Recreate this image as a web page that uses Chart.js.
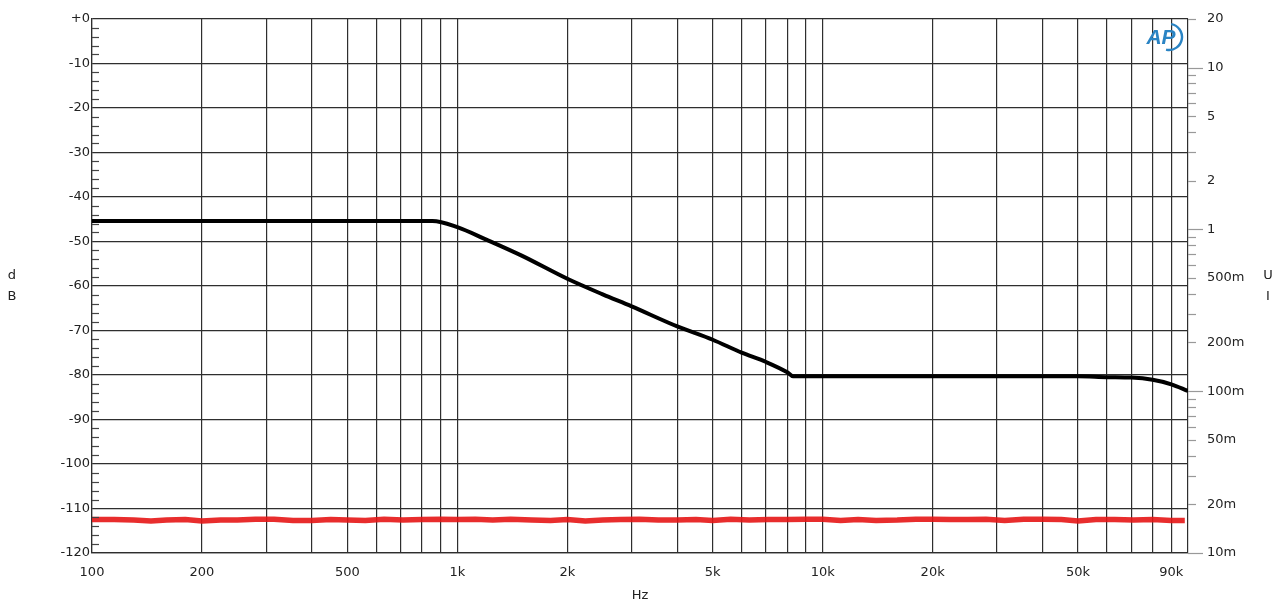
<!DOCTYPE html>
<html>
<head>
<meta charset="utf-8">
<script src="https://cdn.jsdelivr.net/npm/chart.js@4.4.1/dist/chart.umd.min.js"></script>
<style>
  html, body { margin: 0; padding: 0; background: #fff; }
  #wrap { width: 1282px; height: 604px; }
</style>
</head>
<body>
<div id="wrap"><canvas id="fr"></canvas></div>
<script>
// frequency response (black) and noise floor (red)
var blackHz = [100, 200, 500, 855, 1000, 1200, 1500, 2000, 2500, 3000, 4000, 5000, 6000, 7000, 8000, 8300, 10000, 20000, 50000, 60000, 70000, 80000, 90000, 100000];
var blackDb = [-45.4, -45.4, -45.4, -45.4, -46.8, -49.6, -53.2, -58.4, -61.9, -64.6, -69.1, -72.1, -75.0, -77.1, -79.4, -80.3, -80.3, -80.3, -80.3, -80.5, -80.6, -81.1, -82.1, -83.6];

var redHz = [100, 115, 130, 145, 160, 180, 200, 225, 250, 280, 315, 355, 400, 450, 500, 560, 630, 710, 800, 900,
             1000, 1120, 1250, 1400, 1600, 1800, 2000, 2240, 2500, 2800, 3150, 3550, 4000, 4500, 5000, 5600, 6300, 7100, 8000, 9000,
             10000, 11200, 12500, 14000, 16000, 18000, 20000, 22400, 25000, 28000, 31500, 35500, 40000, 45000, 50000, 56000, 63000, 71000, 80000, 90000, 98000];
var redDb = [-112.5, -112.5, -112.6, -112.8, -112.6, -112.5, -112.8, -112.6, -112.6, -112.4, -112.4, -112.7, -112.7, -112.5, -112.6, -112.7, -112.4, -112.6, -112.5, -112.4,
             -112.5, -112.4, -112.6, -112.4, -112.6, -112.7, -112.5, -112.8, -112.6, -112.5, -112.4, -112.6, -112.6, -112.5, -112.7, -112.4, -112.6, -112.5, -112.5, -112.4,
             -112.4, -112.7, -112.5, -112.7, -112.6, -112.4, -112.4, -112.5, -112.5, -112.4, -112.7, -112.4, -112.4, -112.5, -112.8, -112.5, -112.5, -112.6, -112.5, -112.7, -112.7];

var gridHz = [100, 200, 300, 400, 500, 600, 700, 800, 900,
              1000, 2000, 3000, 4000, 5000, 6000, 7000, 8000, 9000,
              10000, 20000, 30000, 40000, 50000, 60000, 70000, 80000, 90000, 100000];
var xTickVals = [100, 200, 500, 1000, 2000, 5000, 10000, 20000, 50000, 90000];
var xTickText = ['100', '200', '500', '1k', '2k', '5k', '10k', '20k', '50k', '90k'];

var dbTicks = [0, -10, -20, -30, -40, -50, -60, -70, -80, -90, -100, -110, -120];
var uVals = [20, 10, 5, 2, 1, 0.5, 0.2, 0.1, 0.05, 0.02, 0.01];
var uText = ['20', '10', '5', '2', '1', '500m', '200m', '100m', '50m', '20m', '10m'];

var txt = '#222';
var gridCol = '#2e2e2e';
var font = { family: "'DejaVu Sans', sans-serif", size: 13 };

function pts(xs, ys) {
  return xs.map(function (x, i) { return { x: x, y: ys[i] }; });
}

// minor ticks, axis letters and the AP mark
var extras = {
  id: 'extras',
  afterDraw: function (chart) {
    var ctx = chart.ctx;
    var y = chart.scales.y, y2 = chart.scales.y2, a = chart.chartArea;
    ctx.save();
    ctx.strokeStyle = '#444';
    ctx.lineWidth = 1.2;
    for (var d = -118; d < 0; d += 2) {
      if (d % 10 === 0) continue;
      var py = Math.round(y.getPixelForValue(d)) + 0.5;
      ctx.beginPath(); ctx.moveTo(a.left, py); ctx.lineTo(a.left + 7, py); ctx.stroke();
    }
    ctx.strokeStyle = '#999';
    for (var e = -2; e <= 1; e++) {
      for (var m = 1; m <= 9; m++) {
        var v = m * Math.pow(10, e);
        if (v < 0.01 - 1e-9 || v > 20 + 1e-9) continue;
        var p = Math.round(y2.getPixelForValue(v)) + 0.5;
        var len = m === 1 ? 15 : 8;
        ctx.beginPath(); ctx.moveTo(a.right, p); ctx.lineTo(a.right + len, p); ctx.stroke();
      }
    }
    ctx.fillStyle = txt;
    ctx.font = "13px 'DejaVu Sans', sans-serif";
    ctx.textAlign = 'center';
    ctx.textBaseline = 'middle';
    ctx.fillText('d', 12, 276);
    ctx.fillText('B', 12, 297);
    ctx.fillText('U', 1268, 276);
    ctx.fillText('I', 1268, 297);

    // AP logo
    ctx.fillStyle = '#2a84c4';
    ctx.strokeStyle = '#2a84c4';
    ctx.font = "italic bold 21px 'Liberation Sans', Arial, sans-serif";
    ctx.fillText('AP', 1161, 38);
    ctx.lineWidth = 2.4;
    ctx.beginPath();
    ctx.arc(1169, 37, 13, -1.4, 1.8);
    ctx.stroke();
    ctx.restore();
  }
};

new Chart(document.getElementById('fr'), {
  type: 'line',
  data: {
    datasets: [
      { data: pts(redHz, redDb), borderColor: 'rgba(230,22,22,0.9)', borderWidth: 5.5, pointRadius: 0, tension: 0, yAxisID: 'y' },
      { data: pts(blackHz, blackDb), borderColor: '#000', borderWidth: 4, pointRadius: 0, cubicInterpolationMode: 'monotone', yAxisID: 'y' }
    ]
  },
  options: {
    responsive: true,
    maintainAspectRatio: false,
    animation: false,
    layout: { padding: { top: 12, left: 0, right: 0, bottom: 0 } },
    plugins: { legend: { display: false }, tooltip: { enabled: false } },
    scales: {
      x: {
        type: 'logarithmic',
        min: 100,
        max: 100000,
        afterBuildTicks: function (s) { s.ticks = gridHz.map(function (v) { return { value: v }; }); },
        afterFit: function (s) { s.height = 51; },
        grid: { color: gridCol, lineWidth: 1.2, drawTicks: false },
        border: { color: gridCol, width: 1.2 },
        ticks: {
          autoSkip: false, maxRotation: 0, padding: 12, color: txt, font: font,
          callback: function (v) {
            var i = xTickVals.indexOf(v);
            return i < 0 ? '' : xTickText[i];
          }
        },
        title: { display: true, text: 'Hz', color: txt, font: font, padding: { top: 2, bottom: 1 } }
      },
      y: {
        type: 'linear',
        position: 'left',
        min: -120,
        max: 0,
        afterBuildTicks: function (s) { s.ticks = dbTicks.map(function (v) { return { value: v }; }); },
        afterFit: function (s) { s.width = 92; },
        grid: { color: gridCol, lineWidth: 1.2, drawTicks: false },
        border: { color: gridCol, width: 1.2 },
        ticks: {
          padding: 2, color: txt, font: font,
          callback: function (v) { return v === 0 ? '+0' : String(v); }
        }
      },
      y2: {
        type: 'logarithmic',
        position: 'right',
        min: 0.01,
        max: 20,
        afterBuildTicks: function (s) { s.ticks = uVals.map(function (v) { return { value: v }; }); },
        afterFit: function (s) { s.width = 94; },
        grid: { display: false, drawOnChartArea: false },
        border: { display: false },
        ticks: {
          padding: 11, color: txt, font: font,
          callback: function (v) {
            var i = uVals.indexOf(v);
            return i < 0 ? '' : uText[i];
          }
        }
      }
    }
  },
  plugins: [extras]
});
</script>
</body>
</html>
